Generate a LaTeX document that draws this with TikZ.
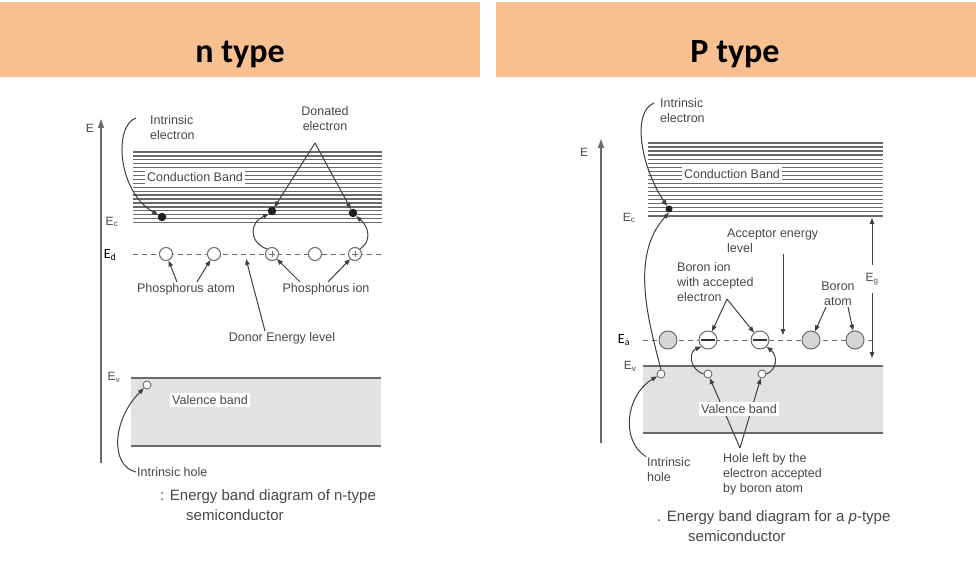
\documentclass[tikz,border=0pt]{standalone}
\usepackage{fontspec}
\setmainfont{Liberation Sans}
\newfontfamily\titlefont{Carlito}
\usetikzlibrary{arrows.meta}
\definecolor{hdr}{RGB}{248,192,144}
\definecolor{txt}{RGB}{72,72,72}
\definecolor{ln}{RGB}{105,105,105}
\definecolor{bandfill}{RGB}{226,226,226}
\definecolor{atomfill}{RGB}{214,214,214}
\begin{document}
\begin{tikzpicture}[x=1pt,y=-1pt,
  lbl/.style={font=\fontsize{12.5}{15}\selectfont, text=txt, inner sep=1pt, align=left},
  lblc/.style={lbl, align=center},
  capt/.style={font=\fontsize{15}{18}\selectfont, text=txt, inner sep=0pt, anchor=west},
  wbox/.style={lbl, fill=white, inner sep=2.5pt},
  elab/.style={font=\fontsize{12}{14}\selectfont, text=txt, inner sep=0pt},
  blab/.style={font=\titlefont\fontsize{14}{16}\selectfont, text=black, inner sep=0pt},
  title/.style={font=\titlefont\bfseries\fontsize{34}{38}\selectfont, text=black},
  cbline/.style={draw=ln, line width=1.3pt},
  bandedge/.style={draw=ln, line width=1.1pt},
  level/.style={draw=ln, line width=1pt, dash pattern=on 5pt off 4pt},
  axis/.style={draw=ln, line width=1.2pt, -{Triangle[length=9pt,width=6pt]}},
  arr/.style={draw=black!75, line width=1pt, -{Triangle[length=6pt,width=4.5pt]}},
  plain/.style={draw=black!70, line width=1pt},
  eldot/.style={circle, fill=black!88, inner sep=0pt, minimum size=8.5pt},
  hole/.style={circle, draw=ln, fill=white, line width=0.9pt, inner sep=0pt, minimum size=8pt},
  atomL/.style={circle, draw=ln, fill=white, line width=1pt, inner sep=0pt, minimum size=13pt},
  ionL/.style={atomL, path picture={
      \draw[ln, line width=0.7pt] ([xshift=-3pt]path picture bounding box.center) -- ++(6pt,0);
      \draw[ln, line width=0.7pt] ([yshift=-3pt]path picture bounding box.center) -- ++(0,6pt);}},
  atomR/.style={circle, draw=ln, fill=atomfill, line width=1pt, inner sep=0pt, minimum size=18pt},
  ionR/.style={circle, draw=ln, fill=white, line width=1pt, inner sep=0pt, minimum size=18pt, path picture={
      \draw[black!80, line width=1.3pt] ([xshift=-7pt]path picture bounding box.center) -- ++(14pt,0);}}
]
\useasboundingbox (0,0) rectangle (976,561);
\fill[white] (0,0) rectangle (976,561);

% ---------------- headers ----------------
\fill[hdr] (0,2) rectangle (480,77);
\fill[hdr] (496,2) rectangle (976,77);
\node[title] (tn) at (240,54) {n type};
\node[title] (tp) at (735,54) {P type};

% ================= LEFT: n type =================
\draw[axis] (101,463) coordinate (axL0) -- (101,119) coordinate (axL1);
\node[elab] (EL) at (90,128) {E};
\node[elab] (EcL) at (112,222) {E\textsubscript{c}};
\node[blab] (EdL) at (110,255) {E\textsubscript{d}};
\node[elab] (EvL) at (114,377) {E\textsubscript{v}};

% conduction band
\foreach \i in {0,...,18}
  \draw[cbline] (133,{152+\i*3.92}) -- (382,{152+\i*3.92});
\node[wbox] (cbL) at (195,177) {Conduction Band};

% donor level
\draw[level] (133,254) -- (383,254);
\node[atomL] (aL1) at (166,254) {};
\node[atomL] (aL2) at (214,254) {};
\node[ionL]  (pL1) at (272,254) {};
\node[atomL] (aL3) at (315,254) {};
\node[ionL]  (pL2) at (355,254) {};

% electrons
\node[eldot] (eL1) at (162,217) {};
\node[eldot] (eL2) at (272,211) {};
\node[eldot] (eL3) at (353,213) {};

% valence band
\fill[bandfill] (131,378) rectangle (381,446);
\draw[bandedge] (131,378) -- (381,378);
\draw[bandedge] (131,446) -- (381,446);
\node[hole] (hL) at (147,385) {};
\node[wbox] (vbL) at (210,400) {Valence band};

% labels
\node[lbl, anchor=west] (ielL) at (149,128) {Intrinsic\\electron};
\node[lblc] (don) at (325,119) {Donated\\electron};
\node[lbl] (patom) at (186,289) {Phosphorus atom};
\node[lbl] (pion) at (326,289) {Phosphorus ion};
\node[lbl] (donor) at (282,338) {Donor Energy level};
\node[lbl, anchor=west] (ihL) at (136,472) {Intrinsic hole};
\node[capt] (capL1) at (160,497) {: Energy band diagram of n-type};
\node[capt] (capL2) at (186,515) {semiconductor};

% connectors
\coordinate (ielS) at (136,118);
\draw[arr] (ielS) .. controls (113,126) and (118,192) .. (eL1);
\coordinate (donA) at (315,143);
\draw[arr] (donA) -- (eL2);
\draw[arr] (donA) -- (eL3);
\draw[arr] (pL1.north west) .. controls (248,242) and (250,222) .. (eL2.south west);
\draw[arr] (pL2.north east) .. controls (371,242) and (370,228) .. (eL3.south east);
\draw[arr] ([xshift=-9pt]patom.north) -- (aL1);
\draw[arr] ([xshift=11pt]patom.north) -- (aL2);
\draw[arr] ([xshift=-26pt]pion.north) -- (pL1);
\draw[arr] ([xshift=2pt]pion.north) -- (pL2);
\coordinate (dlev) at (246,259);
\draw[arr] ([xshift=-17pt]donor.north) -- (dlev);
\draw[arr] (ihL.west) .. controls (110,466) and (112,420) .. (hL);

% ================= RIGHT: p type =================
\draw[axis] (601,443) coordinate (axR0) -- (601,139) coordinate (axR1);
\node[elab] (ER) at (584,152) {E};
\node[elab] (EcR) at (629,218) {E\textsubscript{c}};
\node[blab] (EaR) at (624,340) {E\textsubscript{a}};
\node[elab] (EvR) at (630,366) {E\textsubscript{v}};

\foreach \i in {0,...,18}
  \draw[cbline] (648,{143+\i*4.05}) -- (883,{143+\i*4.05});
\node[wbox] (cbR) at (732,174) {Conduction Band};

% acceptor level
\draw[level] (643,340) -- (877,340);
\node[atomR] (aR1) at (668,340) {};
\node[ionR]  (mR1) at (708,340) {};
\node[ionR]  (mR2) at (760,340) {};
\node[atomR] (aR2) at (811,340) {};
\node[atomR] (aR3) at (855,340) {};

\node[eldot, minimum size=7pt] (eR) at (669,209) {};

% valence band
\fill[bandfill] (643,366) rectangle (883,433);
\draw[bandedge] (643,366) -- (883,366);
\draw[bandedge] (643,433) -- (883,433);
\node[hole] (hR1) at (661,374) {};
\node[hole] (hR2) at (708,374) {};
\node[hole] (hR3) at (762,374) {};

% labels
\node[lbl, anchor=west] (ielR) at (659,111) {Intrinsic\\electron};
\node[lbl, anchor=west] (acc) at (726,241) {Acceptor energy\\level};
\node[lbl, anchor=west] (bion) at (676,282) {Boron ion\\with accepted\\electron};
\node[lblc] (batom) at (838,294) {Boron\\atom};
\node[lbl, anchor=west] (ihR) at (646,470) {Intrinsic\\hole};
\node[lbl, anchor=west] (hleft) at (722,474) {Hole left by the\\electron accepted\\by boron atom};
\node[elab, minimum height=28pt, fill=white, inner xsep=1pt] (eg) at (872,279) {E\textsubscript{g}};
\node[capt] (capR1) at (657,518) {. Energy band diagram for a \textit{p}-type};
\node[capt] (capR2) at (688,536) {semiconductor};

% connectors
\coordinate (ielRS) at (654,103);
\draw[arr] (ielRS) .. controls (632,112) and (640,165) .. (eR);
\draw[arr] (hR1.north) .. controls (648,320) and (630,255) .. (eR.south);
\coordinate (alev) at (783,335);
\draw[arr] (acc.south -| alev) -- (alev);
\coordinate (egT) at (872,218);
\coordinate (egB) at (872,358);
\draw[arr] (eg.north) -- (egT);
\draw[arr] (eg.south) -- (egB);
\coordinate (bionA) at (727,299);
\draw[arr] (bionA) -- (mR1);
\draw[arr] (bionA) -- (mR2);
\draw[arr] ([xshift=-12pt]batom.south) -- (aR2);
\draw[arr] ([xshift=10pt]batom.south) -- (aR3);
\draw[arr] (hR2.west) .. controls (690,370) and (688,352) .. (mR1.south west);
\draw[arr] (hR3.east) .. controls (777,370) and (778,356) .. (mR2.south east);
\coordinate (hleftA) at (740,448);
\draw[arr] (hleftA) -- (hR2);
\draw[arr] (hleftA) -- (hR3);
\node[wbox] (vbR) at (739,409) {Valence band};
\draw[arr] (ihR.north west) .. controls (620,440) and (626,395) .. (hR1);
\end{tikzpicture}
\end{document}
